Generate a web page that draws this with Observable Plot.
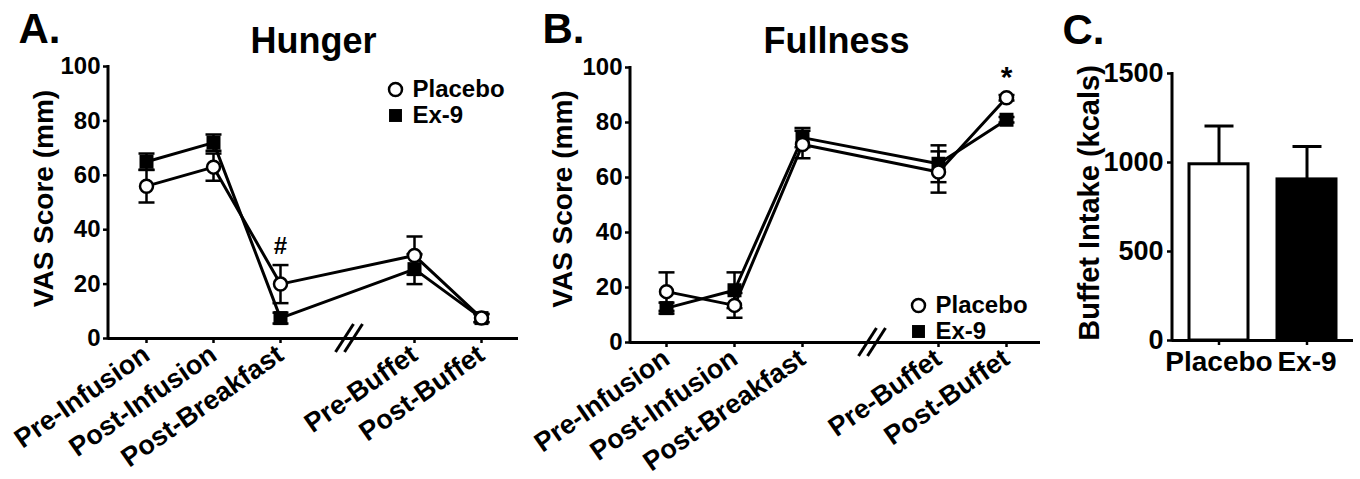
<!DOCTYPE html>
<html><head><meta charset="utf-8">
<script src="https://cdn.jsdelivr.net/npm/d3@7"></script>
<script src="https://cdn.jsdelivr.net/npm/@observablehq/plot@0.6"></script>
<style>
body{margin:0;background:#fff;}
#wrap{position:relative;width:1360px;height:479px;overflow:hidden;background:#fff;}
#wrap > svg{position:absolute;top:0;}
</style></head><body><div id="wrap"></div>
<script>
// ---- data ----
const timepoints = ["Pre-Infusion", "Post-Infusion", "Post-Breakfast", "Pre-Buffet", "Post-Buffet"];
const breakKey = "//";
const seriesNames = ["Placebo", "Ex-9"];

const hungerPlacebo    = [56, 63, 20, 30.5, 7.5];
const hungerPlaceboSEM = [6, 5, 7, 7, 1.5];
const hungerEx9        = [65, 72, 7.5, 25.5, 7.5];
const hungerEx9SEM     = [3, 3, 2, 5.5, 1.5];

const fullnessPlacebo    = [18.5, 13.5, 72, 62, 89];
const fullnessPlaceboSEM = [7, 4.5, 5, 7.5, 1];
const fullnessEx9        = [12.5, 19, 74.5, 65, 81];
const fullnessEx9SEM     = [2, 6.5, 3.5, 6.7, 1];

const vasTicks = [0, 20, 40, 60, 80, 100];

const intakeGroups = ["Placebo", "Ex-9"];
const intakeMean   = [990, 905];
const intakeSEM    = [215, 185];
const intakeTicks  = [0, 500, 1000, 1500];

// ---- helpers ----
const FONT = "font-family:'Liberation Sans',Arial,Helvetica,sans-serif;font-weight:bold;font-size:24px;color:black;background:white;overflow:visible;";
const capSymbol = {draw(ctx, size) { const r = Math.sqrt(size / Math.PI); ctx.moveTo(-r, 0); ctx.lineTo(r, 0); }};

function rows(p, pe, e, ee) {
  const out = [];
  timepoints.forEach((t, i) => {
    out.push({time: t, series: "Placebo", value: p[i], sem: pe[i]});
    out.push({time: t, series: "Ex-9", value: e[i], sem: ee[i]});
  });
  return out;
}

const yAxisLine = (index, scales, values, dims) =>
  d3.create("svg:line")
    .attr("x1", dims.marginLeft).attr("x2", dims.marginLeft)
    .attr("y1", dims.marginTop - 1).attr("y2", dims.height - dims.marginBottom + 1.5)
    .attr("stroke", "black").attr("stroke-width", 3).node();

const breakMark = (index, scales) => {
  const cx = scales.x(breakKey) + 2, cy = scales.y(0);
  const g = d3.create("svg:g").attr("stroke", "black").attr("stroke-width", 3);
  for (const off of [-4.5, 4.5]) {
    g.append("line").attr("x1", cx + off - 9).attr("y1", cy + 14).attr("x2", cx + off + 9).attr("y2", cy - 14);
  }
  return g.node();
};

function legendMarks(lg) {
  return seriesNames.flatMap((s, i) => [
    Plot.dot([s], {frameAnchor: "top-left", dx: lg.dx, dy: lg.dy + i * lg.gap,
      symbol: s === "Placebo" ? "circle" : "square", r: s === "Placebo" ? 6.5 : 7.3,
      fill: s === "Placebo" ? "white" : "black", stroke: s === "Placebo" ? "black" : "none", strokeWidth: 2.5}),
    Plot.text([s], {frameAnchor: "top-left", dx: lg.dx + 17, dy: lg.dy + i * lg.gap, text: d => d,
      textAnchor: "start", lineAnchor: "middle", fontSize: 24, fontWeight: "bold"})
  ]);
}

function linePanel(o) {
  const data = rows(...o.arrays);
  const svg = Plot.plot({
    width: o.width, height: 479,
    marginLeft: o.mL, marginRight: o.mR, marginTop: o.mT, marginBottom: o.mB,
    style: FONT,
    x: {type: "point", domain: [timepoints[0], timepoints[1], timepoints[2], breakKey, timepoints[3], timepoints[4]], padding: o.pad},
    y: {domain: [0, 100]},
    marks: [
      Plot.axisY({ticks: vasTicks, tickSize: 5, tickPadding: 3, fontSize: 24, fontWeight: "bold", strokeWidth: 2.5, label: null}),
      Plot.axisX({ticks: timepoints, tickSize: 5, tickPadding: 8, tickRotate: -35, fontSize: 27, fontWeight: "bold", strokeWidth: 2.5, label: null}),
      Plot.ruleX(data, {x: "time", y1: d => d.value - d.sem, y2: d => d.value + d.sem, stroke: "black", strokeWidth: 2.5}),
      Plot.dot(data, {x: "time", y: d => d.value + d.sem, symbol: capSymbol, r: 8, stroke: "black", strokeWidth: 2.5, fill: "none"}),
      Plot.dot(data, {x: "time", y: d => d.value - d.sem, symbol: capSymbol, r: 8, stroke: "black", strokeWidth: 2.5, fill: "none"}),
      Plot.line(data, {x: "time", y: "value", z: "series", stroke: "black", strokeWidth: 3}),
      Plot.dot(data.filter(d => d.series === "Ex-9"), {x: "time", y: "value", symbol: "square", r: 7.9, fill: "black", stroke: "none"}),
      Plot.dot(data.filter(d => d.series === "Placebo"), {x: "time", y: "value", symbol: "circle", r: 6.5, fill: "white", stroke: "black", strokeWidth: 2.5}),
      Plot.ruleY([0], {stroke: "black", strokeWidth: 3}),
      yAxisLine,
      breakMark,
      Plot.text([o.annot], {x: d => d.time, y: d => d.y, text: d => d.label, dy: o.annot.dy, fontSize: o.annot.size, fontWeight: "bold"}),
      ...legendMarks(o.legend),
      Plot.text(["VAS Score (mm)"], {frameAnchor: "left", rotate: -90, textAnchor: "middle", lineAnchor: "middle", dx: o.ylabDx, dy: o.ylabDy, fontSize: 28, fontWeight: "bold", text: d => d}),
      Plot.text([o.title], {frameAnchor: "top", lineAnchor: "middle", dy: o.titleDy, fontSize: 36, fontWeight: "bold", text: d => d}),
      Plot.text([o.letter], {frameAnchor: "top-left", lineAnchor: "middle", dx: o.letterDx, dy: o.letterDy, fontSize: 42, fontWeight: "bold", textAnchor: "start", text: d => d})
    ]
  });
  svg.style.left = o.left + "px";
  return svg;
}

const wrap = document.getElementById("wrap");

const hungerData = [hungerPlacebo, hungerPlaceboSEM, hungerEx9, hungerEx9SEM];
wrap.appendChild(linePanel({
  arrays: hungerData, left: 0, width: 540, mL: 108, mR: 22, mT: 66, mB: 141, pad: 0.515,
  annot: {time: "Post-Breakfast", y: hungerPlacebo[2] + hungerPlaceboSEM[2], label: "#", dy: -19, size: 24},
  legend: {dx: 287, dy: 23, gap: 26},
  ylabDx: -64, ylabDy: -4, title: "Hunger", titleDy: -25, letter: "A.", letterDx: -90, letterDy: -37
}));

const fullnessData = [fullnessPlacebo, fullnessPlaceboSEM, fullnessEx9, fullnessEx9SEM];
wrap.appendChild(linePanel({
  arrays: fullnessData, left: 530, width: 520, mL: 100, mR: 8, mT: 67, mB: 137, pad: 0.5,
  annot: {time: "Post-Buffet", y: fullnessPlacebo[4] + fullnessPlaceboSEM[4], label: "*", dy: -18, size: 30},
  legend: {dx: 288, dy: 238, gap: 26},
  ylabDx: -67, ylabDy: -6, title: "Fullness", titleDy: -26, letter: "B.", letterDx: -88, letterDy: -38
}));

// ---- panel C ----
const intakeRows = intakeGroups.map((g, i) => ({group: g, mean: intakeMean[i], sem: intakeSEM[i]}));
const svgC = Plot.plot({
  width: 320, height: 479, marginLeft: 132, marginRight: 7, marginTop: 73, marginBottom: 139,
  style: FONT,
  x: {type: "band", domain: intakeGroups, paddingInner: 0.326, paddingOuter: 0.18},
  y: {domain: [0, 1500]},
  color: {domain: intakeGroups, range: ["white", "black"]},
  marks: [
    Plot.axisY({ticks: intakeTicks, tickFormat: d3.format("d"), tickSize: 5, tickPadding: 4, fontSize: 27, fontWeight: "bold", strokeWidth: 2.5, label: null}),
    Plot.axisX({tickSize: 5, tickPadding: 6, fontSize: 28, fontWeight: "bold", strokeWidth: 2.5, label: null}),
    Plot.barY(intakeRows, {x: "group", y: "mean", fill: "group", stroke: "black", strokeWidth: 3}),
    Plot.ruleX(intakeRows, {x: "group", y1: "mean", y2: d => d.mean + d.sem, stroke: "black", strokeWidth: 3}),
    Plot.dot(intakeRows, {x: "group", y: d => d.mean + d.sem, symbol: capSymbol, r: 14.5, stroke: "black", strokeWidth: 3, fill: "none"}),
    Plot.ruleY([0], {stroke: "black", strokeWidth: 3}),
    yAxisLine,
    Plot.text(["Buffet Intake (kcals)"], {frameAnchor: "left", rotate: -90, textAnchor: "middle", lineAnchor: "middle", dx: -83, dy: -4, fontSize: 29, fontWeight: "bold", text: d => d}),
    Plot.text(["C."], {frameAnchor: "top-left", lineAnchor: "middle", dx: -110, dy: -43, fontSize: 42, fontWeight: "bold", textAnchor: "start", text: d => d})
  ]
});
svgC.style.left = "1040px";
wrap.appendChild(svgC);
</script></body></html>
